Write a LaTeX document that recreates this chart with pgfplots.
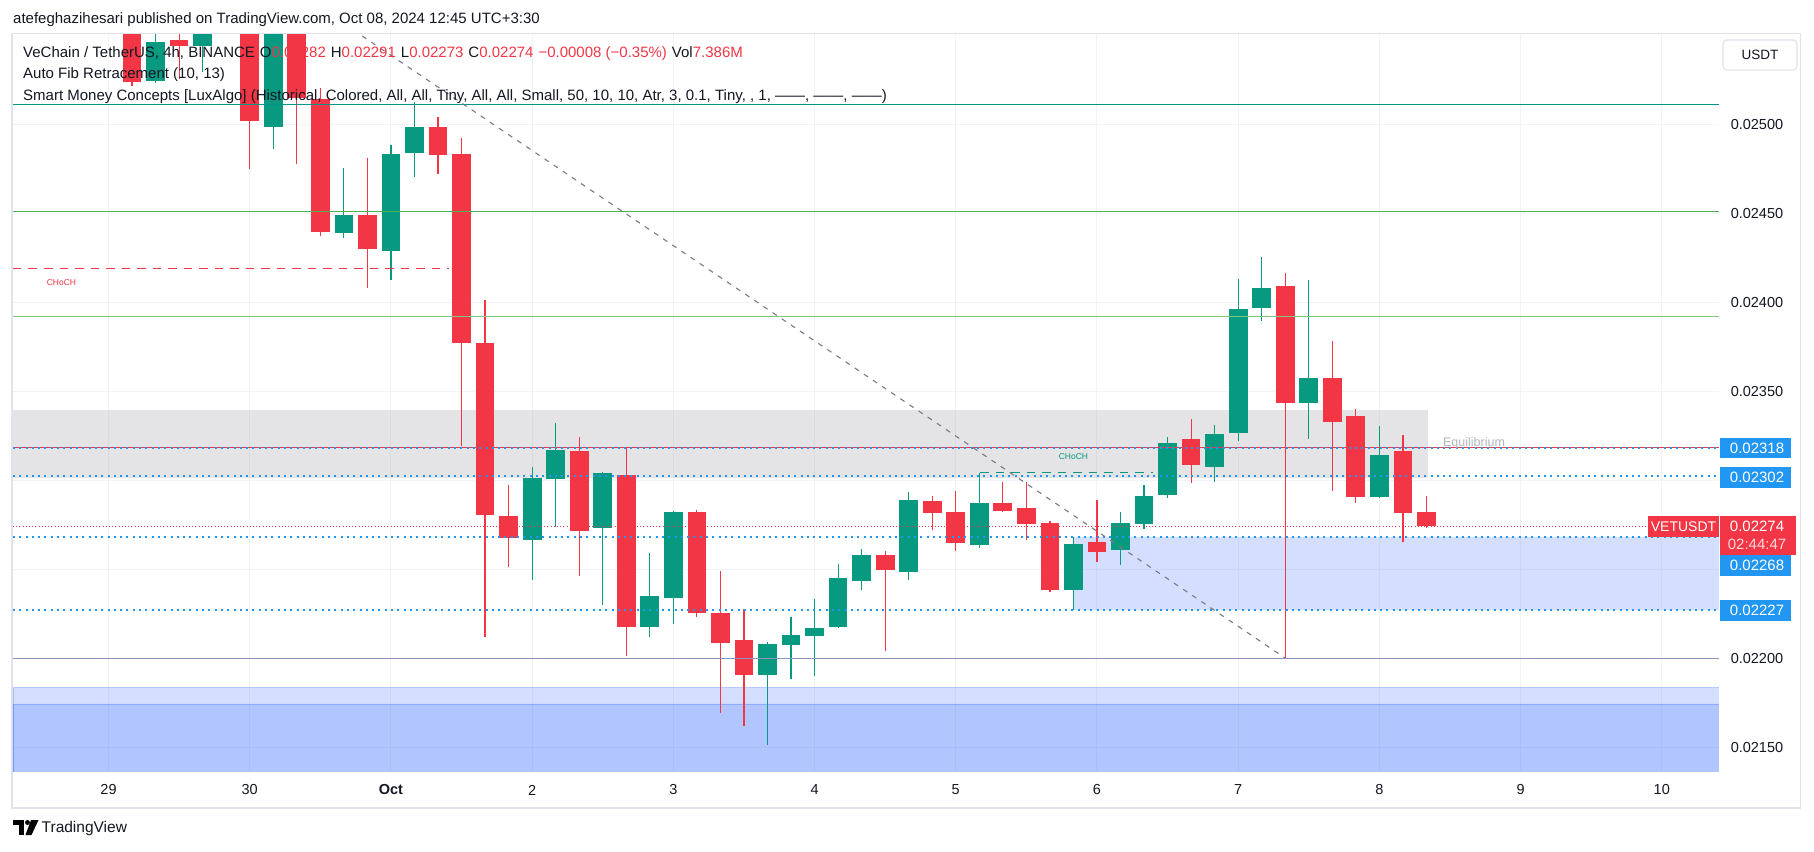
\documentclass[border=0pt]{standalone}
\usepackage{fontspec}
\setmainfont{Liberation Sans}
\usepackage{pgfplots}
\usepackage{pgfplotstable}
\pgfplotsset{compat=1.18}

\definecolor{vgreen}{RGB}{8,153,129}
\definecolor{vred}{RGB}{242,54,69}
\definecolor{lblue}{RGB}{33,150,243}
\definecolor{zblue}{RGB}{41,98,255}
\definecolor{zgray}{RGB}{120,123,134}
\definecolor{gridc}{RGB}{240,243,250}
\definecolor{framec}{RGB}{224,227,235}
\definecolor{txt}{RGB}{19,23,34}
\definecolor{fibteal}{RGB}{0,150,136}
\definecolor{fibgreen}{RGB}{76,175,80}
\definecolor{fiblgreen}{RGB}{129,199,132}
\definecolor{fibgray}{RGB}{140,150,190}
\definecolor{eqgray}{RGB}{178,181,190}

% 4h candles, x = candle index (0 = Oct 1), prices in USDT
\pgfplotstableread{
x   o        h        l        c
-10 0.02524  0.02560  0.02523  0.025459
-8  0.02544  0.02580  0.025294 0.02556
-5  0.024985 0.02580  0.024861 0.02556
-2  0.024389 0.024751 0.024361 0.024489
0   0.024288 0.024882 0.024124 0.024831
1   0.024839 0.025125 0.024704 0.024983
6   0.022665 0.023073 0.022438 0.023013
7   0.023007 0.02332  0.022734 0.023169
9   0.022729 0.023045 0.0223   0.023039
11  0.022176 0.02259  0.02212  0.022348
12  0.022339 0.022825 0.022193 0.02282
16  0.021906 0.022088 0.021513 0.022079
17  0.022075 0.02223  0.021884 0.022129
18  0.022125 0.022331 0.021901 0.022169
19  0.022176 0.022528 0.022169 0.02245
20  0.022434 0.022612 0.022384 0.022579
22  0.022485 0.022933 0.02244  0.022888
25  0.022637 0.023039 0.02262  0.022871
29  0.022382 0.02268  0.02227  0.02264
31  0.022608 0.02282  0.022524 0.022758
32  0.022755 0.022972 0.022723 0.02291
33  0.022917 0.023242 0.0229   0.023208
35  0.023075 0.023309 0.02299  0.023258
36  0.023266 0.024129 0.023221 0.023961
37  0.023968 0.024253 0.023895 0.024079
39  0.023434 0.024124 0.023232 0.023573
42  0.022906 0.023303 0.0229   0.02314
}\upbars

\pgfplotstableread{
x   o        h        l        c
-11 0.02570  0.02575  0.025213 0.025238
-9  0.025472 0.02560  0.025253 0.02544
-6  0.02560  0.02565  0.024746 0.025019
-4  0.02560  0.02565  0.024774 0.025144
-3  0.02514  0.0252   0.024371 0.024395
-1  0.024489 0.024807 0.02408  0.024299
2   0.024983 0.025039 0.024721 0.024828
3   0.024831 0.024921 0.023193 0.023768
4   0.023768 0.024011 0.02212  0.022805
5   0.022798 0.022972 0.022513 0.022676
8   0.023163 0.02324  0.022462 0.022715
10  0.023028 0.023178 0.022013 0.022176
13  0.02282  0.022831 0.022232 0.022254
14  0.022253 0.022489 0.021693 0.022086
15  0.022101 0.022274 0.02162  0.021906
21  0.022579 0.022601 0.022041 0.022496
23  0.022882 0.02291  0.022721 0.022816
24  0.02282  0.02294  0.022603 0.022648
26  0.022871 0.02299  0.022822 0.022828
27  0.022843 0.022989 0.022665 0.022755
28  0.022758 0.02277  0.022371 0.022382
30  0.022652 0.022888 0.022541 0.022597
34  0.02323  0.023343 0.022985 0.023086
38  0.02409  0.024163 0.0220   0.023434
40  0.023573 0.023781 0.02294  0.023328
41  0.02336  0.023399 0.022872 0.022906
43  0.023163 0.023253 0.022653 0.022816
44  0.02282  0.02291  0.02273  0.02274
}\downbars

\newcommand\lgd{\fontsize{15}{17}\selectfont}
\newcommand\lab{\fontsize{15}{17}\selectfont}

\begin{document}
\begin{tikzpicture}[x=1pt,y=1pt]
\useasboundingbox (0,0) rectangle (1814,851);
\fill[white] (0,0) rectangle (1814,851);
\draw[framec, line width=1.5pt] (12,43) rectangle (1800.5,817.5);

\begin{scope}
\clip (0,0) rectangle (1814,816.5);
\begin{axis}[
  at={(13pt,79pt)}, anchor=south west, scale only axis,
  width=1706pt, height=737.5pt,
  xmin=-16.06, xmax=56.43, ymin=0.02136, ymax=0.025503,
  axis line style={draw=none},
  major tick length=0pt,
  scaled y ticks=false,
  xtick={-12,-6,...,54},
  xticklabels={29,30,\textbf{Oct},2,3,4,5,6,7,8,9,10},
  ytick={0.0215,0.022,0.0225,0.023,0.0235,0.024,0.0245,0.025},
  yticklabels={0.02150,0.02200,,,0.02350,0.02400,0.02450,0.02500},
  yticklabel pos=right,
  grid=major, major grid style={gridc, line width=1pt},
  tick label style={font=\fontsize{14.5}{17}\selectfont, text=txt},
  xticklabel style={anchor=center, yshift=-18pt},
  yticklabel style={anchor=center, xshift=38pt},
]
% zones
\addplot[draw=none, fill=zgray, fill opacity=0.2, forget plot]
  coordinates {(-16.06,0.023011) (44.05,0.023011) (44.05,0.023393) (-16.06,0.023393)};
\addplot[draw=none, fill=zblue, fill opacity=0.2, forget plot]
  coordinates {(29,0.02227) (56.43,0.02227) (56.43,0.02268) (29,0.02268)};
\addplot[draw=zblue, draw opacity=0.25, fill=zblue, fill opacity=0.2, forget plot]
  coordinates {(-16.06,0.0213) (56.43,0.0213) (56.43,0.021835) (-16.06,0.021835) (-16.06,0.0213)};
\addplot[draw=zblue, draw opacity=0.25, fill=zblue, fill opacity=0.2, forget plot]
  coordinates {(-16.06,0.0213) (56.43,0.0213) (56.43,0.021742) (-16.06,0.021742) (-16.06,0.0213)};

% wicks
\addplot[draw=none, mark=none, forget plot, error bars/.cd, y dir=minus, y explicit,
  error mark=none, error bar style={draw=vgreen, line width=1.2pt}]
  table[x=x, y=h, y error expr=\thisrow{h}-\thisrow{l}] {\upbars};
\addplot[draw=none, mark=none, forget plot, error bars/.cd, y dir=minus, y explicit,
  error mark=none, error bar style={draw=vred, line width=1.2pt}]
  table[x=x, y=h, y error expr=\thisrow{h}-\thisrow{l}] {\downbars};
% bodies
\addplot[draw=none, mark=none, forget plot, error bars/.cd, y dir=minus, y explicit,
  error mark=none, error bar style={draw=vgreen, line width=18.7pt}]
  table[x=x, y=c, y error expr=\thisrow{c}-\thisrow{o}] {\upbars};
\addplot[draw=none, mark=none, forget plot, error bars/.cd, y dir=minus, y explicit,
  error mark=none, error bar style={draw=vred, line width=18.7pt}]
  table[x=x, y=o, y error expr=\thisrow{o}-\thisrow{c}] {\downbars};

% fib levels
\addplot[fibteal, line width=1pt, forget plot] coordinates {(-16.06,0.02511) (56.43,0.02511)};
\addplot[fibgreen, line width=1pt, forget plot] coordinates {(-16.06,0.024508) (56.43,0.024508)};
\addplot[fiblgreen, line width=1pt, forget plot] coordinates {(-16.06,0.02392) (56.43,0.02392)};
\addplot[fibgray, line width=1pt, forget plot] coordinates {(-16.06,0.0220) (56.43,0.0220)};
\addplot[vred, line width=1.2pt, forget plot] coordinates {(-16.06,0.023184) (56.43,0.023184)};
% structure lines
\addplot[lblue, line width=2pt, dash pattern=on 2pt off 4.3pt, forget plot] coordinates {(-16.06,0.02318) (56.43,0.02318)};
\addplot[lblue, line width=2pt, dash pattern=on 2pt off 4.3pt, forget plot] coordinates {(-16.06,0.02302) (56.43,0.02302)};
\addplot[lblue, line width=2pt, dash pattern=on 2pt off 4.3pt, forget plot] coordinates {(-16.06,0.02268) (56.43,0.02268)};
\addplot[lblue, line width=2pt, dash pattern=on 2pt off 4.3pt, forget plot] coordinates {(-16.06,0.02227) (56.43,0.02227)};
\addplot[vred, line width=1pt, dash pattern=on 1pt off 2.2pt, forget plot] coordinates {(-16.06,0.02274) (56.43,0.02274)};
\addplot[vred, line width=1pt, dash pattern=on 8.5pt off 7pt, forget plot] coordinates {(-16.06,0.024191) (2.46,0.024191)};
\addplot[vgreen, line width=1pt, dash pattern=on 8.5pt off 7pt, forget plot] coordinates {(25.05,0.02304) (32.4,0.02304)};
\addplot[zgray, line width=1.1pt, dash pattern=on 5pt off 6pt, forget plot] coordinates {(-2,0.025564) (38,0.0220)};

\node[text=vred, font=\fontsize{8.5}{10}\selectfont] at (axis cs:-14,0.024107) {CHoCH};
\node[text=vgreen, font=\fontsize{8.5}{10}\selectfont] at (axis cs:29,0.02313) {CHoCH};
\node[text=eqgray, anchor=west, inner sep=0pt, font=\fontsize{12.5}{14}\selectfont] at (axis cs:44.7,0.023205) {Equilibrium};
\end{axis}
\end{scope}

% header and legend
\node[anchor=west, inner sep=0pt, text=txt, font=\lgd] at (13,831) {atefeghazihesari published on TradingView.com, Oct 08, 2024 12:45 UTC+3:30};
\node[anchor=west, inner sep=0pt, text=txt, font=\lgd] at (23,797.7) {VeChain / TetherUS, 4h, BINANCE\hspace{5pt}O{\color{vred}0.02282}\hspace{5pt}H{\color{vred}0.02291}\hspace{5pt}L{\color{vred}0.02273}\hspace{5pt}C{\color{vred}0.02274}\hspace{5pt}{\color{vred}−0.00008 (−0.35\%)}\hspace{5pt}Vol{\color{vred}7.386M}};
\node[anchor=west, inner sep=0pt, text=txt, font=\lgd] at (23,776) {Auto Fib Retracement (10, 13)};
\node[anchor=west, inner sep=0pt, text=txt, font=\lgd] at (23,754.3) {Smart Money Concepts [LuxAlgo] (Historical, Colored, All, All, Tiny, All, All, Small, 50, 10, 10, Atr, 3, 0.1, Tiny, , 1, ——, ——, ——)};

% USDT button
\draw[framec, fill=white, line width=1.2pt, rounded corners=4pt] (1723,781) rectangle (1797,811);
\node[text=txt, font=\fontsize{13.5}{15}\selectfont] at (1760,796) {USDT};

% price labels
\fill[lblue] (1720,392.7) rectangle (1791,412.7);
\node[text=white, font=\lab] at (1757,402.7) {0.02318};
\fill[lblue] (1720,363.3) rectangle (1791,383.7);
\node[text=white, font=\lab] at (1757,373.5) {0.02302};
\fill[lblue] (1720,275.3) rectangle (1791,296);
\node[text=white, font=\lab] at (1757,285.7) {0.02268};
\fill[lblue] (1720,230.3) rectangle (1791,251);
\node[text=white, font=\lab] at (1757,240.7) {0.02227};
\fill[vred] (1720,296) rectangle (1795.7,335);
\node[text=white, font=\lab] at (1757,324.3) {0.02274};
\node[text=white!80!vred, font=\lab] at (1757,307) {02:44:47};
\fill[vred] (1648,314.3) rectangle (1719,335);
\node[text=white, font=\fontsize{14}{16}\selectfont] at (1683.5,324.7) {VETUSDT};

% TradingView logo
\fill[black] (13,26) rectangle (24,31);
\fill[black] (18.5,16) rectangle (24,31);
\fill[black] (27.5,28.5) circle (2.5);
\fill[black] (31,31) -- (38.5,31) -- (31.5,16) -- (25.5,16) -- cycle;
\node[anchor=west, inner sep=0pt, text=txt, font=\fontsize{15.5}{18}\selectfont] at (41.5,23) {TradingView};
\end{tikzpicture}
\end{document}
